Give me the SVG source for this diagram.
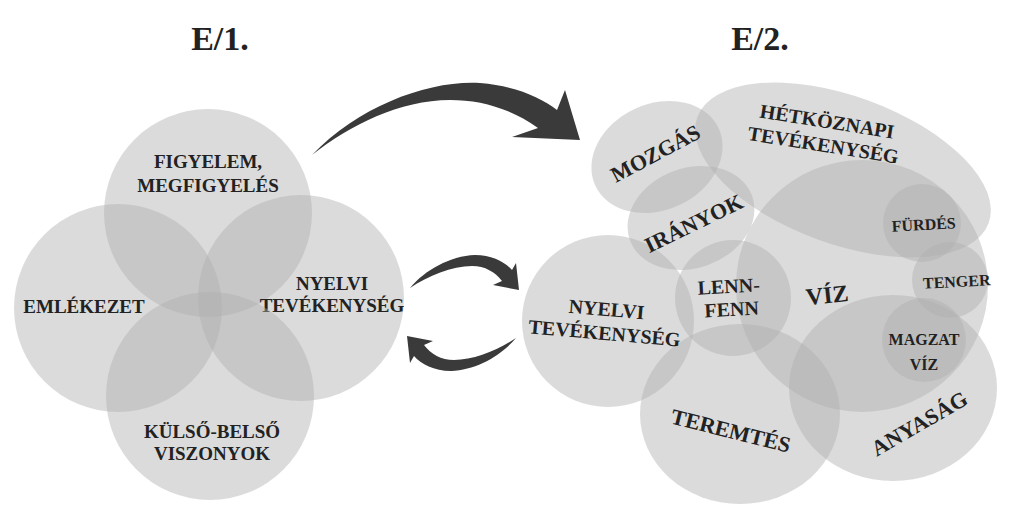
<svg xmlns="http://www.w3.org/2000/svg" width="1024" height="517" viewBox="0 0 1024 517">
<defs>
<style>
.c{fill:#b0b0b0;fill-opacity:0.45}
.t{font-family:"Liberation Serif","Times New Roman",serif;font-weight:bold;fill:#222;text-anchor:middle}
.h{font-size:34px}
.l{font-size:19px}
.r{font-size:20px}
.s{font-size:16px}
.a{fill:#3a3a3a}
</style>
</defs>
<rect width="1024" height="517" fill="#fff"/>
<text class="t h" x="220" y="50">E/1.</text>
<text class="t h" x="760" y="50">E/2.</text>

<g id="e1-figyelem"><circle class="c" cx="208" cy="213" r="104"/><text class="t l" x="208" y="168">FIGYELEM,</text><text class="t l" x="208" y="192">MEGFIGYELÉS</text></g>
<g id="e1-emlekezet"><circle class="c" cx="118" cy="308" r="104"/><text class="t l" x="84" y="313">EMLÉKEZET</text></g>
<g id="e1-nyelvi"><circle class="c" cx="301" cy="298" r="103"/><text class="t l" x="332" y="290">NYELVI</text><text class="t l" x="332" y="312">TEVÉKENYSÉG</text></g>
<g id="e1-kulso"><circle class="c" cx="210" cy="396" r="104"/><text class="t l" x="212" y="438">KÜLSŐ-BELSŐ</text><text class="t l" x="212" y="460">VISZONYOK</text></g>

<g id="e2-mozgas"><ellipse class="c" cx="657" cy="157" rx="68" ry="53" transform="rotate(-25 657 157)"/></g>
<g id="e2-hetkoznapi"><ellipse class="c" cx="843" cy="170" rx="155" ry="74" transform="rotate(20 843 170)"/></g>
<g id="e2-iranyok"><ellipse class="c" cx="691" cy="218" rx="65" ry="50" transform="rotate(-20 691 218)"/></g>
<g id="e2-viz"><circle class="c" cx="862" cy="286" r="126"/></g>
<g id="e2-furdes"><circle class="c" cx="922" cy="223" r="39"/></g>
<g id="e2-tenger"><circle class="c" cx="950" cy="280" r="38"/></g>
<g id="e2-anyasag"><ellipse class="c" cx="893" cy="388" rx="104" ry="93"/></g>
<g id="e2-magzat"><circle class="c" cx="924" cy="340" r="42"/></g>
<g id="e2-teremtes"><ellipse class="c" cx="740" cy="414" rx="100" ry="90"/></g>
<g id="e2-nyelvi"><circle class="c" cx="608" cy="321" r="86"/></g>
<g id="e2-lennfenn"><circle class="c" cx="733" cy="298" r="58"/></g>

<g id="e2-labels">
<text class="t" font-size="22" transform="translate(659,160) rotate(-28)" x="0" y="0">MOZGÁS</text>
<g transform="translate(826,128) rotate(9)"><text class="t r" x="0" y="0">HÉTKÖZNAPI</text><text class="t r" x="0" y="24">TEVÉKENYSÉG</text></g>
<text class="t" font-size="22" transform="translate(697,230) rotate(-26)" x="0" y="0">IRÁNYOK</text>
<text class="t s" transform="translate(924,230) rotate(-3)" x="0" y="0">FÜRDÉS</text>
<text class="t s" transform="translate(957,287) rotate(-3)" x="0" y="0">TENGER</text>
<text class="t s" x="924" y="345">MAGZAT</text>
<text class="t s" x="924" y="370">VÍZ</text>
<text class="t r" transform="translate(729,293) rotate(-3)" x="0" y="0">LENN-</text>
<text class="t r" transform="translate(732,316) rotate(-3)" x="0" y="0">FENN</text>
<text class="t" font-size="24" transform="translate(828,303) rotate(-6)" x="0" y="0">VÍZ</text>
<g transform="translate(606,316) rotate(5)"><text class="t r" x="0" y="0">NYELVI</text><text class="t r" x="0" y="24">TEVÉKENYSÉG</text></g>
<text class="t" font-size="22" transform="translate(729,438) rotate(14)" x="0" y="0">TEREMTÉS</text>
<text class="t" font-size="22" transform="translate(923,430) rotate(-30)" x="0" y="0">ANYASÁG</text>
</g>

<g id="connectors">
<path class="a" d="M312,155 C360,105 430,80 480,83 C515,86 540,97 557,110 L565,90 L580,140 L512,137 L538,128 C510,108 480,100 450,100 C400,100 350,125 312,155 Z"/>
<path class="a" d="M410,288 C425,270 450,256 475,255 C492,255 505,262 512,270 L516,263 L519,290 L493,285 L502,281 C495,272 485,266 472,266 C452,266 428,276 410,288 Z"/>
<path class="a" d="M410,288 C425,270 450,256 475,255 C492,255 505,262 512,270 L516,263 L519,290 L493,285 L502,281 C495,272 485,266 472,266 C452,266 428,276 410,288 Z" transform="rotate(180 463 313)"/>
</g>
</svg>
